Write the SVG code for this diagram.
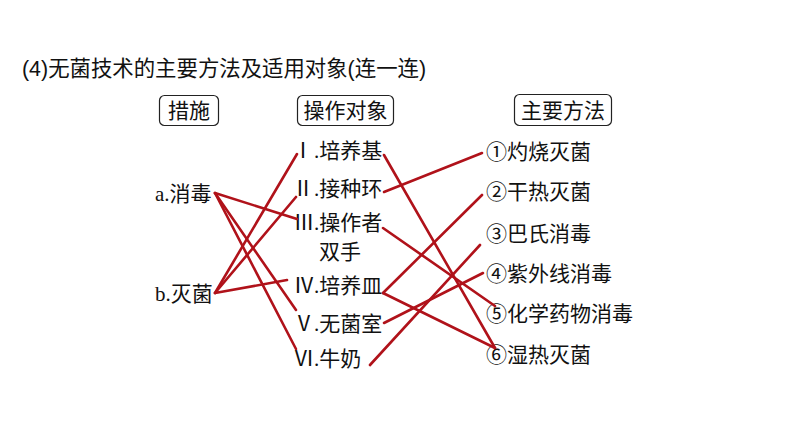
<svg xmlns="http://www.w3.org/2000/svg" width="794" height="447" viewBox="0 0 794 447">
<style>
.t{font-family:"Liberation Serif","Noto Sans CJK SC",serif;font-size:21px;fill:#111}
.n{font-family:"Liberation Serif","Noto Sans CJK SC",serif;font-size:21px;fill:#111;text-anchor:middle}
.h{font-family:"Liberation Sans","Noto Sans CJK SC",sans-serif;font-size:21.4px;fill:#111}
.box{fill:none;stroke:#222;stroke-width:1.2}
.ln{stroke:#b0121a;stroke-width:2.6;fill:none;stroke-linecap:round}
</style>
<rect width="794" height="447" fill="#fff"/>
<g id="title"><text class="h" x="22" y="76">(4)无菌技术的主要方法及适用对象(连一连)</text></g>
<g id="hdr-measure"><rect class="box" x="159.5" y="95.5" width="59" height="30" rx="5"/><text class="t" x="189" y="118" text-anchor="middle">措施</text></g>
<g id="hdr-object"><rect class="box" x="297.5" y="95.5" width="96" height="30" rx="5"/><text class="t" x="345.5" y="118" text-anchor="middle">操作对象</text></g>
<g id="hdr-method"><rect class="box" x="514.5" y="94.5" width="97" height="31" rx="5"/><text class="t" x="563" y="118" text-anchor="middle">主要方法</text></g>
<g id="a"><text class="t" x="155" y="201">a.消毒</text></g>
<g id="b"><text class="t" x="155" y="301">b.灭菌</text></g>
<g id="o1"><text class="n" x="303" y="158">Ⅰ</text><text class="t" x="314" y="158">.培养基</text></g>
<g id="o2"><text class="n" x="303" y="196">Ⅱ</text><text class="t" x="314" y="196">.接种环</text></g>
<g id="o3"><text class="n" x="304" y="230">Ⅲ</text><text class="t" x="314" y="230">.操作者</text><text class="t" x="319" y="259">双手</text></g>
<g id="o4"><text class="n" x="304" y="293">Ⅳ</text><text class="t" x="314" y="293">.培养皿</text></g>
<g id="o5"><text class="n" x="304" y="331">Ⅴ</text><text class="t" x="314" y="331">.无菌室</text></g>
<g id="o6"><text class="n" x="304" y="366">Ⅵ</text><text class="t" x="314" y="366">.牛奶</text></g>
<g id="m1"><text class="t" x="486" y="159">①灼烧灭菌</text></g>
<g id="m2"><text class="t" x="486" y="199">②干热灭菌</text></g>
<g id="m3"><text class="t" x="486" y="241">③巴氏消毒</text></g>
<g id="m4"><text class="t" x="486" y="281">④紫外线消毒</text></g>
<g id="m5"><text class="t" x="486" y="321">⑤化学药物消毒</text></g>
<g id="m6"><text class="t" x="486" y="362">⑥湿热灭菌</text></g>
<g id="connectors">
<line class="ln" x1="215" y1="193" x2="297" y2="219"/>
<line class="ln" x1="215" y1="193" x2="296" y2="310"/>
<line class="ln" x1="215" y1="193" x2="296" y2="349"/>
<line class="ln" x1="215" y1="293" x2="297" y2="154"/>
<line class="ln" x1="215" y1="293" x2="296" y2="197"/>
<line class="ln" x1="215" y1="293" x2="287" y2="280"/>
<line class="ln" x1="384" y1="155" x2="495" y2="348"/>
<line class="ln" x1="384" y1="192" x2="482" y2="153"/>
<line class="ln" x1="383" y1="228" x2="495" y2="306"/>
<line class="ln" x1="383" y1="293" x2="482" y2="195"/>
<line class="ln" x1="383" y1="293" x2="495" y2="348"/>
<line class="ln" x1="384" y1="323" x2="483" y2="273"/>
<line class="ln" x1="370" y1="365" x2="480" y2="245"/>
</g>
</svg>
